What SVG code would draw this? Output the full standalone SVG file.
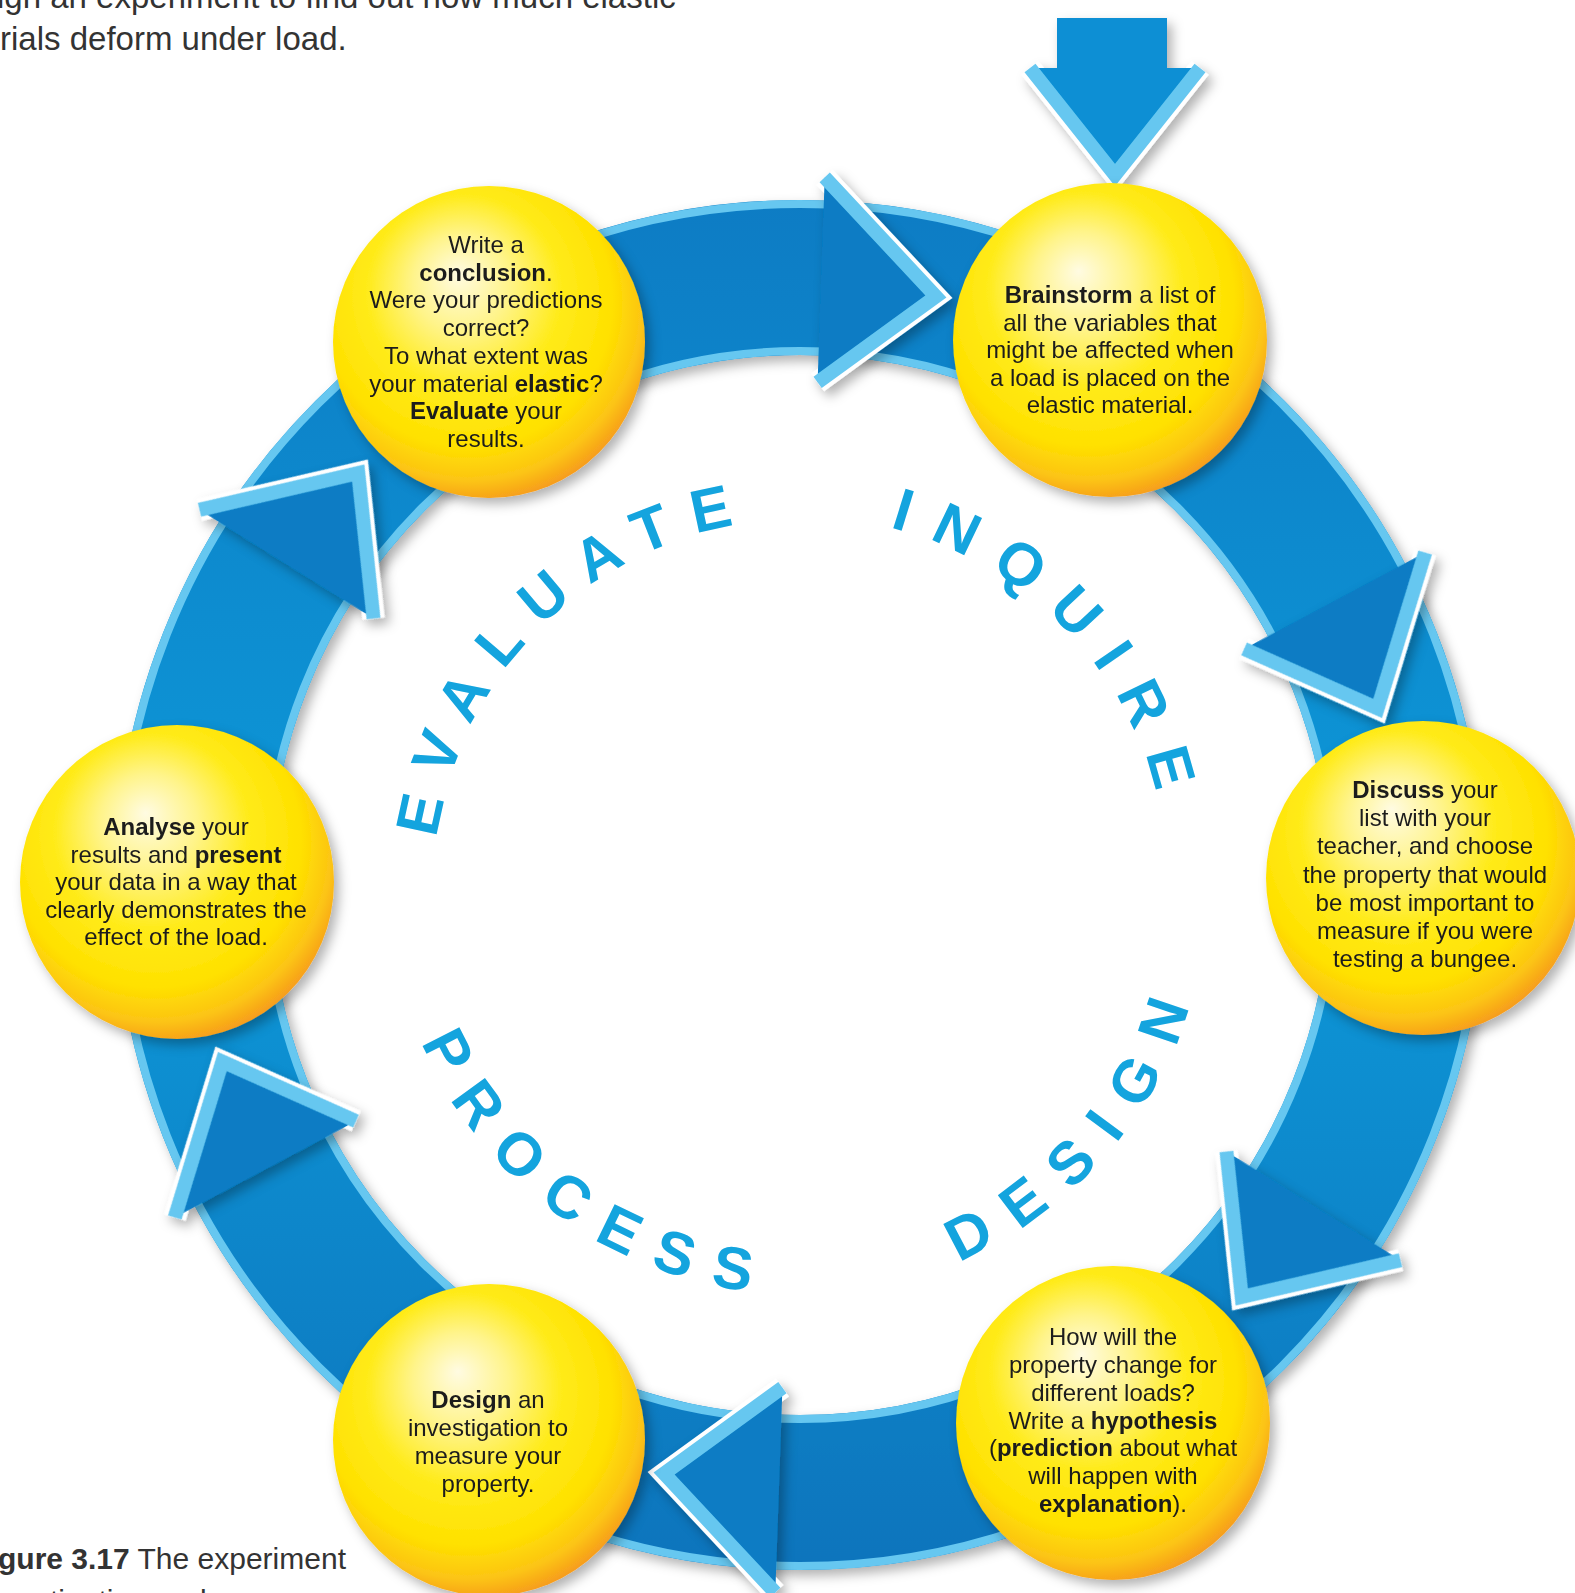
<svg xmlns="http://www.w3.org/2000/svg" width="1575" height="1593" viewBox="0 0 1575 1593">
<defs>
<style>
.body{font-family:"Liberation Sans",Arial,sans-serif;font-size:24px;fill:#1c1c1c;text-anchor:middle}
.b{font-weight:bold}
.stage{font-family:"Liberation Sans",Arial,sans-serif;font-size:60px;font-weight:bold;fill:#14a4de;text-anchor:middle}
.head{font-family:"Liberation Sans",Arial,sans-serif;font-size:33px;fill:#333333}
.cap{font-family:"Liberation Sans",Arial,sans-serif;font-size:30px;fill:#333333}
.ah-fill{fill:#0a7cc4}
.ah-white{fill:none;stroke:#ffffff;stroke-width:22;stroke-linejoin:miter}
.ah-rim{fill:none;stroke:#66c7f0;stroke-width:14;stroke-linejoin:miter}
.ball{fill:url(#ball)}
</style>
<radialGradient id="ball" cx="0.44" cy="0.4" r="0.62" fx="0.4" fy="0.28">
<stop offset="0" stop-color="#fffbe2"/>
<stop offset="0.25" stop-color="#fff48a"/>
<stop offset="0.5" stop-color="#ffeb1a"/>
<stop offset="0.75" stop-color="#ffe100"/>
<stop offset="0.9" stop-color="#fcc414"/>
<stop offset="1" stop-color="#f69a1c"/>
</radialGradient>
<linearGradient id="band" x1="0" y1="200" x2="0" y2="1575" gradientUnits="userSpaceOnUse">
<stop offset="0" stop-color="#0b7cc4"/>
<stop offset="0.5" stop-color="#0e98d8"/>
<stop offset="1" stop-color="#0a74bc"/>
</linearGradient>
<filter id="sh" x="-20%" y="-20%" width="140%" height="140%">
<feDropShadow dx="5" dy="6" stdDeviation="6" flood-color="#000000" flood-opacity="0.3"/>
</filter>
<g id="ah">
<polyline class="ah-white" points="824.7,177.4 935.9,296.5 817.6,382.3"/>
<polygon class="ah-fill" points="824.7,177.4 935.9,296.5 817.6,382.3"/>
<polyline class="ah-rim" points="824.7,177.4 935.9,296.5 817.6,382.3"/>
</g>
<path id="pEval" d="M 548.7 1154.5 A 368.5 368.5 0 0 1 1051.3 615.5"/>
<path id="pInq" d="M 537.6 626.2 A 368.5 368.5 0 0 1 1062.4 1143.8"/>
<path id="pDes" d="M 520.4 1186.9 A 411.5 411.5 0 0 0 1079.6 583.1"/>
<path id="pProc" d="M 474.0 633.9 A 411.5 411.5 0 0 0 1126.0 1136.1"/>
</defs>

<rect width="1575" height="1593" fill="#ffffff"/>

<g id="page-text">
<text class="head" x="-3" y="8">ign an experiment to find out how much elastic</text>
<text class="head" x="0" y="50">rials deform under load.</text>
<text class="cap" x="-2" y="1569"><tspan class="b">gure 3.17</tspan> The experiment</text>
<text class="cap" x="-20" y="1611">investigation cycle</text>
</g>

<g id="connectors">
<g filter="url(#sh)">
<circle cx="800" cy="885" r="607.5" fill="none" stroke="url(#band)" stroke-width="155"/>
</g>
<circle cx="800" cy="885" r="681" fill="none" stroke="#66c7f0" stroke-width="8"/>
<circle cx="800" cy="885" r="534" fill="none" stroke="#66c7f0" stroke-width="8"/>
<g filter="url(#sh)">
<use href="#ah"/>
<use href="#ah" transform="rotate(60 800 885)"/>
<use href="#ah" transform="rotate(120 800 885)"/>
<use href="#ah" transform="rotate(180 800 885)"/>
<use href="#ah" transform="rotate(240 800 885)"/>
<use href="#ah" transform="rotate(300 800 885)"/>
</g>
<g id="start-arrow" filter="url(#sh)">
<rect x="1057" y="18" width="110" height="56" fill="#0a8fd4"/>
<polyline class="ah-white" points="1030,68 1115,175 1200,68"/>
<polygon points="1030,68 1200,68 1115,175" fill="#0a8fd4"/>
<polyline class="ah-rim" points="1030,68 1115,175 1200,68"/>
</g>
</g>

<g id="stages">
<text class="stage"><textPath href="#pEval" startOffset="589" letter-spacing="21">EVALUATE</textPath></text>
<text class="stage"><textPath href="#pInq" startOffset="591" letter-spacing="24">INQUIRE</textPath></text>
<text class="stage"><textPath href="#pDes" startOffset="659" letter-spacing="25">DESIGN</textPath></text>
<text class="stage"><textPath href="#pProc" startOffset="658" letter-spacing="23">PROCESS</textPath></text>
</g>

<g id="node-conclusion">
<circle class="ball" cx="489" cy="342" r="156" filter="url(#sh)"/>
<text class="body" x="486" y="253">Write a</text>
<text class="body" x="486" y="280.7"><tspan class="b">conclusion</tspan>.</text>
<text class="body" x="486" y="308.4">Were your predictions</text>
<text class="body" x="486" y="336.1">correct?</text>
<text class="body" x="486" y="363.8">To what extent was</text>
<text class="body" x="486" y="391.5">your material <tspan class="b">elastic</tspan>?</text>
<text class="body" x="486" y="419.2"><tspan class="b">Evaluate</tspan> your</text>
<text class="body" x="486" y="447">results.</text>
</g>

<g id="node-brainstorm">
<circle class="ball" cx="1110" cy="340" r="157" filter="url(#sh)"/>
<text class="body" x="1110" y="303"><tspan class="b">Brainstorm</tspan> a list of</text>
<text class="body" x="1110" y="330.5">all the variables that</text>
<text class="body" x="1110" y="358">might be affected when</text>
<text class="body" x="1110" y="385.5">a load is placed on the</text>
<text class="body" x="1110" y="413">elastic material.</text>
</g>

<g id="node-discuss">
<circle class="ball" cx="1423" cy="878" r="157" filter="url(#sh)"/>
<text class="body" x="1425" y="798"><tspan class="b">Discuss</tspan> your</text>
<text class="body" x="1425" y="826.2">list with your</text>
<text class="body" x="1425" y="854.3">teacher, and choose</text>
<text class="body" x="1425" y="882.5">the property that would</text>
<text class="body" x="1425" y="910.7">be most important to</text>
<text class="body" x="1425" y="938.8">measure if you were</text>
<text class="body" x="1425" y="967">testing a bungee.</text>
</g>

<g id="node-hypothesis">
<circle class="ball" cx="1113" cy="1423" r="157" filter="url(#sh)"/>
<text class="body" x="1113" y="1345">How will the</text>
<text class="body" x="1113" y="1372.8">property change for</text>
<text class="body" x="1113" y="1400.7">different loads?</text>
<text class="body" x="1113" y="1428.5">Write a <tspan class="b">hypothesis</tspan></text>
<text class="body" x="1113" y="1456.3">(<tspan class="b">prediction</tspan> about what</text>
<text class="body" x="1113" y="1484.2">will happen with</text>
<text class="body" x="1113" y="1512"><tspan class="b">explanation</tspan>).</text>
</g>

<g id="node-design">
<circle class="ball" cx="489" cy="1440" r="156" filter="url(#sh)"/>
<text class="body" x="488" y="1408"><tspan class="b">Design</tspan> an</text>
<text class="body" x="488" y="1436">investigation to</text>
<text class="body" x="488" y="1464">measure your</text>
<text class="body" x="488" y="1492">property.</text>
</g>

<g id="node-analyse">
<circle class="ball" cx="177" cy="882" r="157" filter="url(#sh)"/>
<text class="body" x="176" y="835"><tspan class="b">Analyse</tspan> your</text>
<text class="body" x="176" y="862.5">results and <tspan class="b">present</tspan></text>
<text class="body" x="176" y="890">your data in a way that</text>
<text class="body" x="176" y="917.5">clearly demonstrates the</text>
<text class="body" x="176" y="945">effect of the load.</text>
</g>
</svg>
